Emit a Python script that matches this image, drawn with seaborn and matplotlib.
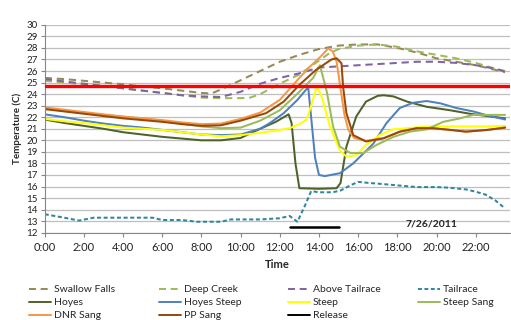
import matplotlib
matplotlib.use("Agg")
import matplotlib.pyplot as plt
from matplotlib.lines import Line2D
import seaborn as sns

# hours of day (decimal) and temperatures (C)
sf_t = [0, 1, 2, 3, 4, 5, 6, 7, 8, 8.5, 9, 10, 11, 12, 13, 14, 15, 16, 17, 18, 19, 20, 21, 22, 23, 23.5]
sf_v = [25.4, 25.3, 25.15, 25.0, 24.85, 24.65, 24.5, 24.3, 24.1, 24.05, 24.4, 25.2, 26.0, 26.8, 27.4, 27.9, 28.2, 28.3, 28.3, 28.0, 27.6, 27.1, 26.8, 26.5, 26.1, 25.9]

dc_t = [0, 1, 2, 3, 4, 5, 6, 7, 8, 9, 10, 10.5, 11, 12, 13, 14, 14.5, 15, 16, 17, 18, 19, 20, 21, 22, 23, 23.5]
dc_v = [25.15, 25.0, 24.85, 24.7, 24.5, 24.3, 24.1, 23.9, 23.7, 23.65, 23.65, 23.7, 24.0, 24.9, 25.7, 26.9, 27.5, 27.9, 28.2, 28.3, 28.1, 27.7, 27.4, 27.1, 26.7, 26.2, 26.0]

at_t = [0, 1, 2, 3, 4, 5, 6, 7, 8, 9, 10, 11, 12, 13, 14, 15, 16, 17, 18, 19, 20, 21, 22, 23, 23.5]
at_v = [25.3, 25.1, 24.9, 24.7, 24.5, 24.3, 24.1, 23.9, 23.8, 23.75, 24.2, 24.9, 25.4, 25.8, 26.3, 26.4, 26.5, 26.6, 26.7, 26.8, 26.8, 26.7, 26.5, 26.2, 25.95]

tr_t = [0, 1, 1.75, 2.5, 3, 4, 5, 5.5, 6, 7, 7.75, 8, 9, 9.5, 10, 11, 12, 12.5, 12.9, 13.3, 13.6, 14, 14.7, 15.1, 15.6, 16, 16.6, 17, 18, 19, 20, 20.6, 21.5, 22, 22.5, 23, 23.5]
tr_v = [13.6, 13.3, 13.05, 13.3, 13.3, 13.3, 13.3, 13.3, 13.1, 13.1, 12.95, 12.95, 12.95, 13.15, 13.15, 13.15, 13.25, 13.45, 12.95, 14.4, 15.6, 15.5, 15.5, 15.65, 16.1, 16.4, 16.3, 16.25, 16.1, 15.95, 15.95, 15.9, 15.75, 15.55, 15.3, 14.8, 14.1]

ho_t = [0, 1, 2, 3, 4, 5, 6, 7, 8, 9, 10, 11, 11.8, 12.2, 12.45, 12.6, 12.8, 13.0, 14.0, 14.9, 15.1, 15.4, 15.9, 16.4, 17.0, 17.3, 17.8, 18.5, 19.5, 20.7, 21.7, 22.6, 23.5]
ho_v = [21.8, 21.5, 21.25, 21.0, 20.7, 20.5, 20.3, 20.15, 20.0, 20.0, 20.2, 21.0, 21.6, 22.0, 22.25, 21.5, 18.0, 15.85, 15.8, 15.85, 16.3, 19.45, 22.05, 23.35, 23.85, 23.9, 23.8, 23.35, 22.9, 22.6, 22.3, 22.1, 21.9]

hs_t = [0, 1, 2, 3, 4, 5, 6, 7, 8, 9, 10, 11, 11.5, 12.2, 12.9, 13.45, 13.6, 13.8, 14.0, 14.3, 14.6, 15.07, 15.75, 16.77, 17.45, 18.13, 18.8, 19.5, 20.2, 21.0, 21.87, 22.5, 23.5]
hs_v = [22.25, 22.0, 21.7, 21.45, 21.25, 21.1, 20.9, 20.7, 20.5, 20.45, 20.5, 21.0, 21.5, 22.35, 23.5, 24.6, 22.0, 18.5, 17.0, 16.9, 17.0, 17.15, 18.0, 19.7, 21.5, 22.8, 23.25, 23.4, 23.2, 22.8, 22.5, 22.2, 21.8]

st_t = [0, 1, 2, 3, 4, 5, 6, 7, 8, 9, 10, 11, 12, 12.5, 13.0, 13.37, 13.6, 13.88, 14.1, 14.3, 14.56, 15.07, 15.4, 15.9, 16.4, 17.1, 17.8, 18.5, 19.5, 20.5, 21.5, 22.5, 23.5]
st_v = [21.85, 21.65, 21.5, 21.3, 21.1, 21.0, 20.9, 20.7, 20.5, 20.35, 20.45, 20.65, 20.9, 21.05, 21.4, 21.8, 23.0, 24.6, 24.0, 22.8, 21.2, 19.1, 18.6, 18.7, 19.6, 20.45, 20.95, 21.05, 21.2, 21.2, 21.2, 21.2, 21.25]

ss_t = [0, 1, 2, 3, 4, 5, 6, 7, 8, 9, 10, 11, 12, 13.0, 13.7, 14.05, 14.4, 14.72, 15.07, 15.6, 16.26, 16.94, 17.8, 18.64, 19.5, 20.34, 21.2, 21.87, 22.7, 23.5]
ss_v = [22.75, 22.55, 22.35, 22.2, 22.05, 21.9, 21.7, 21.45, 21.2, 21.05, 21.1, 21.7, 22.6, 24.2, 25.4, 26.5, 24.2, 21.2, 19.45, 18.9, 18.9, 19.6, 20.3, 20.75, 20.95, 21.6, 21.9, 22.2, 22.2, 22.2]

dnr_t = [0, 1, 2, 3, 4, 5, 6, 7, 8, 9, 10, 11, 12, 13.0, 13.55, 14.0, 14.47, 14.7, 14.9, 15.1, 15.3, 15.5, 15.8, 16.4, 17.3, 18.13, 19.0, 19.8, 20.7, 21.5, 22.6, 23.5]
dnr_v = [22.85, 22.65, 22.45, 22.25, 22.05, 21.9, 21.75, 21.55, 21.4, 21.45, 21.85, 22.4, 23.5, 25.4, 26.4, 27.1, 27.95, 27.7, 26.8, 24.5, 22.2, 20.9, 20.2, 19.95, 20.2, 20.75, 21.05, 21.05, 20.9, 20.75, 20.9, 21.1]

pp_t = [0, 1, 2, 3, 4, 5, 6, 7, 8, 9, 10, 11.3, 12.2, 13.0, 13.85, 14.64, 14.9, 15.15, 15.23, 15.4, 15.75, 16.4, 17.3, 18.13, 19.0, 19.8, 20.7, 21.5, 22.6, 23.5]
pp_v = [22.7, 22.5, 22.3, 22.1, 21.9, 21.75, 21.6, 21.4, 21.25, 21.3, 21.7, 22.35, 23.35, 24.8, 26.1, 27.0, 27.1, 26.67, 24.65, 22.35, 20.45, 19.9, 20.17, 20.75, 21.05, 21.05, 20.9, 20.75, 20.9, 21.1]

release_t = [12.5, 15.0]
release_v = [12.5, 12.5]

threshold = 24.7
x_ticks = list(range(0, 24, 2))
x_labels = [f"{h}:00" for h in x_ticks]
date_label = "7/26/2011"

sns.set_style("white")
plt.rcParams["font.family"] = ["Lato", "DejaVu Sans"]

fig = plt.figure(figsize=(5.11, 3.2), dpi=100)
ax = fig.add_axes([0.0875, 0.2728, 0.9105, 0.6497])

long_dash = (0, (3.6, 2.4))
short_dash = (0, (2.0, 1.3))
series = [
    ("Swallow Falls", sf_t, sf_v, "#948A54", long_dash),
    ("Deep Creek", dc_t, dc_v, "#9BBB59", long_dash),
    ("Above Tailrace", at_t, at_v, "#8064A2", long_dash),
    ("Tailrace", tr_t, tr_v, "#31859C", short_dash),
    ("Hoyes", ho_t, ho_v, "#4F6228", "-"),
    ("Hoyes Steep", hs_t, hs_v, "#4F81BD", "-"),
    ("Steep", st_t, st_v, "#FFFF00", "-"),
    ("Steep Sang", ss_t, ss_v, "#9BBB59", "-"),
    ("DNR Sang", dnr_t, dnr_v, "#F79646", "-"),
    ("PP Sang", pp_t, pp_v, "#984807", "-"),
    ("Release", release_t, release_v, "black", "-"),
]

handles = {}
for name, t, v, color, ls in series:
    lw = 1.8 if name == "Release" else 1.45
    sns.lineplot(x=t, y=v, ax=ax, color=color, linestyle=ls, linewidth=lw,
                 sort=False, estimator=None)
    handles[name] = Line2D([], [], color=color, linestyle=ls, linewidth=1.4)

ax.axhline(threshold, color="#FF0000", linewidth=2.4, zorder=5)

ax.set_xlim(0, 23.75)
ax.set_ylim(12, 30)
ax.set_xticks(x_ticks)
ax.set_xticklabels(x_labels)
ax.set_yticks(range(12, 31))
ax.yaxis.grid(True, color="#BFBFBF", linewidth=0.9)
ax.set_axisbelow(True)
for s in ["top", "right"]:
    ax.spines[s].set_visible(False)
for s in ["left", "bottom"]:
    ax.spines[s].set_color("#868686")
    ax.spines[s].set_linewidth(0.8)
ax.tick_params(axis="both", direction="out", length=3, width=0.8, color="#868686",
               labelcolor="#222222")
ax.tick_params(axis="x", labelsize=8, pad=4)
ax.tick_params(axis="y", labelsize=7, pad=2, left=True)
ax.tick_params(axis="x", bottom=True)

ax.set_xlabel("Time", fontsize=8, fontweight="bold", labelpad=4)
ax.set_ylabel("Temperature (C)", fontsize=7, fontweight="bold", labelpad=3)
ax.text(19.76, 12.75, date_label, fontsize=7.5, fontweight="bold", ha="center", va="center")

# legend laid out row by row, one column at a time
columns = [
    ["Swallow Falls", "Hoyes", "DNR Sang"],
    ["Deep Creek", "Hoyes Steep", "PP Sang"],
    ["Above Tailrace", "Steep", "Release"],
    ["Tailrace", "Steep Sang"],
]
col_x = [29, 159, 288, 418]
for x0, names in zip(col_x, columns):
    fig.legend([handles[n] for n in names], names, loc="upper left",
               bbox_to_anchor=(x0 / 511, 1 - 285 / 320), frameon=False,
               fontsize=7.5, handlelength=2.1, handletextpad=0.3,
               labelspacing=0.35, borderpad=0, borderaxespad=0)

fig.savefig("out.png", dpi=100)
